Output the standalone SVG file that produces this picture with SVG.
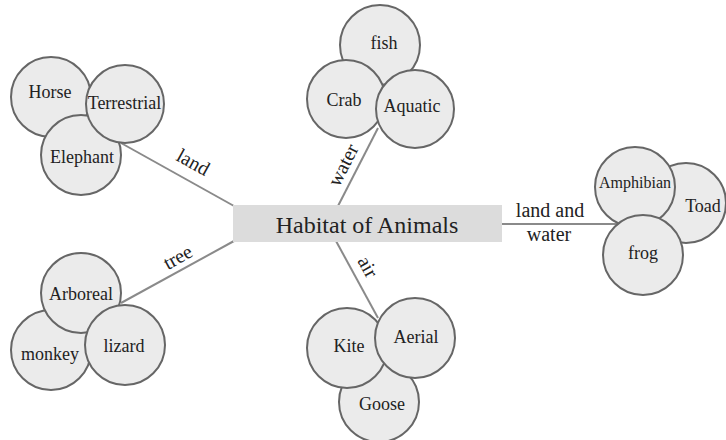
<svg xmlns="http://www.w3.org/2000/svg" width="726" height="440" viewBox="0 0 726 440" font-family="'Liberation Serif', 'DejaVu Serif', serif">
<style>
.c{fill:#ebebeb;stroke:#666;stroke-width:2}
.t{font-family:"Liberation Serif","DejaVu Serif",serif;font-size:18px;fill:#222;text-anchor:middle}
.l{font-family:"Liberation Serif","DejaVu Serif",serif;font-size:20px;fill:#222;text-anchor:middle}
.e{stroke:#8a8a8a;stroke-width:2;fill:none}
</style>
<rect width="726" height="440" fill="#fff"/>
<g id="connectors">
<line class="e" x1="121" y1="143" x2="234" y2="206"/>
<line class="e" x1="378" y1="128" x2="338" y2="206"/>
<line class="e" x1="121" y1="303" x2="234" y2="241"/>
<line class="e" x1="336" y1="241" x2="378" y2="318"/>
<line class="e" x1="501" y1="224" x2="617" y2="224"/>
<text class="l" transform="translate(190,168) rotate(29)">land</text>
<text class="l" transform="translate(349,168) rotate(-63)">water</text>
<text class="l" transform="translate(181,263) rotate(-29)">tree</text>
<text class="l" transform="translate(362,270) rotate(61)">air</text>
<text class="l" x="550" y="217">land and</text>
<text class="l" x="549" y="241">water</text>
</g>
<g id="center"><rect x="233" y="205" width="269" height="37" fill="#dcdcdc"/><text class="t" x="367" y="233" style="font-size:24px">Habitat of Animals</text></g>
<g id="horse"><circle class="c" cx="51" cy="97" r="40"/><text class="t" x="50" y="98">Horse</text></g>
<g id="elephant"><circle class="c" cx="81" cy="155" r="40"/><text class="t" x="82" y="163">Elephant</text></g>
<g id="terrestrial"><circle class="c" cx="125" cy="104" r="39"/><text class="t" x="124.5" y="109">Terrestrial</text></g>
<g id="fish"><circle class="c" cx="380" cy="45" r="40"/><text class="t" x="384" y="49">fish</text></g>
<g id="crab"><circle class="c" cx="346" cy="99" r="39"/><text class="t" x="344" y="106">Crab</text></g>
<g id="aquatic"><circle class="c" cx="415" cy="109" r="39"/><text class="t" x="412" y="112">Aquatic</text></g>
<g id="toad"><circle class="c" cx="686" cy="203" r="40"/><text class="t" x="703" y="212">Toad</text></g>
<g id="amphibian"><circle class="c" cx="635" cy="187" r="40"/><text class="t" x="635" y="188" style="font-size:16px">Amphibian</text></g>
<g id="frog"><circle class="c" cx="643" cy="255" r="40"/><text class="t" x="643" y="259">frog</text></g>
<g id="monkey"><circle class="c" cx="51" cy="350" r="40"/><text class="t" x="50" y="360">monkey</text></g>
<g id="arboreal"><circle class="c" cx="81" cy="293" r="40"/><text class="t" x="81" y="300">Arboreal</text></g>
<g id="lizard"><circle class="c" cx="125" cy="345" r="40"/><text class="t" x="124" y="352">lizard</text></g>
<g id="goose"><circle class="c" cx="379" cy="402" r="40"/><text class="t" x="382" y="410">Goose</text></g>
<g id="kite"><circle class="c" cx="347" cy="348" r="40"/><text class="t" x="349" y="352">Kite</text></g>
<g id="aerial"><circle class="c" cx="415" cy="338" r="40"/><text class="t" x="416" y="343">Aerial</text></g>
</svg>
